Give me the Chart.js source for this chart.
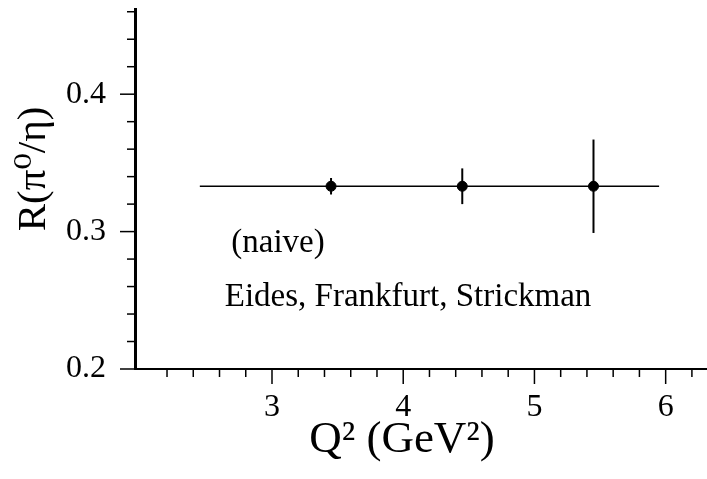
<!DOCTYPE html>
<html lang="en">
<head>
  <meta charset="UTF-8" />
  <title>R(pi0/eta) vs Q2</title>
  <script src="https://cdn.jsdelivr.net/npm/chart.js"></script>
  <style>
    body {
      margin: 0;
      background-color: #ffffff;
    }
    #chart {
      display: block;
    }
  </style>
</head>
<body>
  <canvas id="chart" width="707" height="479"></canvas>

  <script>
    // measured points with vertical error bars
    const q2Values = [3.45, 4.45, 5.45];
    const ratioValues = [0.333, 0.333, 0.333];
    const ratioErrors = [0.006, 0.013, 0.034];

    // naive prediction line
    const naiveX = [2.45, 5.95];
    const naiveY = [0.333, 0.333];

    // axis ticks (major ones get labels)
    const xTicks = [2.2, 2.4, 2.6, 2.8, 3, 3.2, 3.4, 3.6, 3.8, 4, 4.2, 4.4, 4.6, 4.8, 5, 5.2, 5.4, 5.6, 5.8, 6, 6.2];
    const xMajor = [3, 4, 5, 6];
    const yTicks = [0.2, 0.22, 0.24, 0.26, 0.28, 0.3, 0.32, 0.34, 0.36, 0.38, 0.4, 0.42, 0.44, 0.46];
    const yMajor = [0.2, 0.3, 0.4];

    const notes = [
      { text: '(naive)', x: 2.69, y: 0.2918 },
      { text: 'Eides, Frankfurt, Strickman', x: 2.64, y: 0.2518 }
    ];

    const serif = '"Liberation Serif", "DejaVu Serif", serif';
    const isMajor = (v, list) => list.some(m => Math.abs(m - v) < 1e-6);

    // tick marks, error bars and texts
    const extras = {
      id: 'extras',
      afterDatasetsDraw(chart) {
        const { ctx, scales: { x, y }, chartArea } = chart;
        ctx.save();
        ctx.strokeStyle = '#000';

        // x tick marks
        x.ticks.forEach(t => {
          const px = x.getPixelForValue(t.value);
          const len = isMajor(t.value, xMajor) ? 15 : 8;
          ctx.lineWidth = 1.5;
          ctx.beginPath();
          ctx.moveTo(px, chartArea.bottom);
          ctx.lineTo(px, chartArea.bottom + len);
          ctx.stroke();
        });
        // y tick marks
        y.ticks.forEach(t => {
          const py = y.getPixelForValue(t.value);
          const len = isMajor(t.value, yMajor) ? 15 : 8;
          ctx.lineWidth = 1.5;
          ctx.beginPath();
          ctx.moveTo(chartArea.left, py);
          ctx.lineTo(chartArea.left - len, py);
          ctx.stroke();
        });

        // error bars
        ctx.lineWidth = 2;
        q2Values.forEach((q, i) => {
          const px = x.getPixelForValue(q);
          ctx.beginPath();
          ctx.moveTo(px, y.getPixelForValue(ratioValues[i] + ratioErrors[i]));
          ctx.lineTo(px, y.getPixelForValue(ratioValues[i] - ratioErrors[i]));
          ctx.stroke();
        });

        // notes inside the plot
        ctx.fillStyle = '#000';
        ctx.font = '33px ' + serif;
        ctx.textAlign = 'left';
        ctx.textBaseline = 'middle';
        notes.forEach(n => {
          ctx.fillText(n.text, x.getPixelForValue(n.x), y.getPixelForValue(n.y));
        });

        // axis titles
        ctx.font = '45px ' + serif;
        ctx.textAlign = 'center';
        ctx.fillText('Q² (GeV²)', 402, 440);
        ctx.font = '41px ' + serif;
        ctx.translate(34, 169);
        ctx.rotate(-Math.PI / 2);
        ctx.fillText('R(π⁰/η)', 0, 0);
        ctx.restore();
      }
    };

    new Chart(document.getElementById('chart'), {
      type: 'scatter',
      data: {
        datasets: [
          {
            label: 'naive',
            type: 'line',
            data: naiveX.map((v, i) => ({ x: v, y: naiveY[i] })),
            borderColor: '#000',
            borderWidth: 1.5,
            pointRadius: 0,
            fill: false
          },
          {
            label: 'data',
            data: q2Values.map((v, i) => ({ x: v, y: ratioValues[i] })),
            backgroundColor: '#000',
            borderColor: '#000',
            pointRadius: 5,
            pointHoverRadius: 5
          }
        ]
      },
      options: {
        responsive: false,
        animation: false,
        layout: { autoPadding: false, padding: { top: 9, right: 0, left: 0, bottom: 0 } },
        plugins: {
          legend: { display: false },
          tooltip: { enabled: false }
        },
        scales: {
          x: {
            type: 'linear',
            min: 1.956,
            max: 6.315,
            afterFit: s => { s.height = 110; s.paddingLeft = 0; s.paddingRight = 0; },
            afterBuildTicks: s => { s.ticks = xTicks.map(v => ({ value: v })); },
            grid: { display: false },
            border: { display: true, color: '#000', width: 2 },
            ticks: {
              autoSkip: false,
              maxRotation: 0,
              padding: 11,
              color: '#000',
              font: { family: serif, size: 32 },
              callback: v => isMajor(v, xMajor) ? String(Math.round(v)) : ''
            }
          },
          y: {
            min: 0.2,
            max: 0.462,
            afterFit: s => { s.width = 135; s.paddingTop = 0; s.paddingBottom = 0; },
            afterBuildTicks: s => { s.ticks = yTicks.map(v => ({ value: v })); },
            grid: { display: false },
            border: { display: true, color: '#000', width: 3 },
            ticks: {
              autoSkip: false,
              padding: 21,
              color: '#000',
              font: { family: serif, size: 32 },
              callback: v => isMajor(v, yMajor) ? v.toFixed(1) : ''
            }
          }
        }
      },
      plugins: [extras]
    });
  </script>
</body>
</html>
